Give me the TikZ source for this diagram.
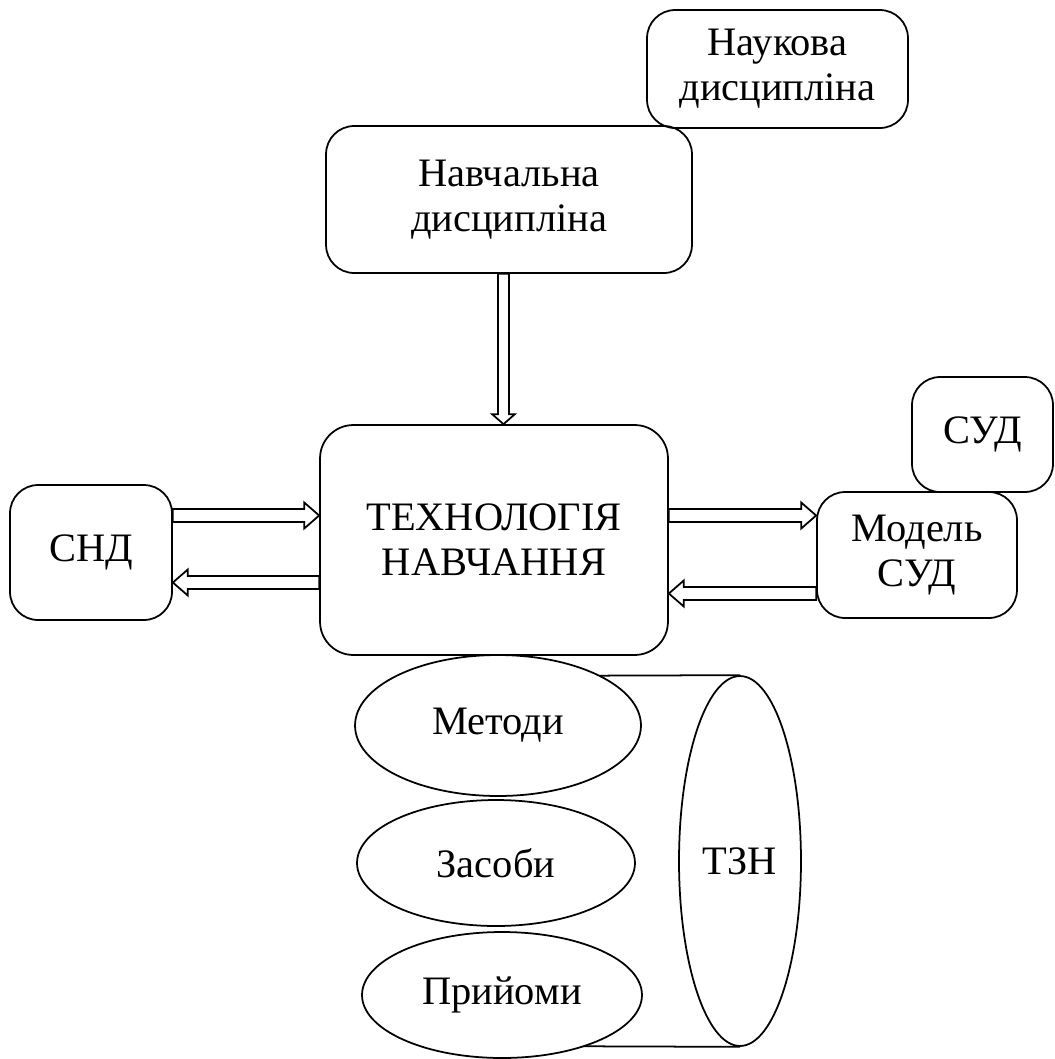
\documentclass[tikz,border=0pt]{standalone}
\usepackage{fontspec}
\setmainfont{Liberation Serif}
\usetikzlibrary{calc,shapes.geometric}
\tikzset{
 box/.style={draw, line width=1pt, rounded corners=16pt, align=center, inner sep=0pt, font=\fontsize{23}{25.5}\selectfont},
 oval/.style={draw, ellipse, line width=1pt, inner sep=0pt, fill=white, font=\fontsize{23}{25.5}\selectfont},
 blockarr/.style={draw, line width=1pt, line join=miter, fill=white},
 cyl/.style={draw, line width=1pt},
}
\newcommand\hollowarrow[5]{%
  \coordinate (hA) at (#1); \coordinate (hB) at (#2);
  \coordinate (hH) at ($(hB)!#5!(hA)$);
  \draw[blockarr] ($(hA)!#3!90:(hB)$) -- ($(hH)!#3!90:(hB)$) -- ($(hH)!#4!90:(hB)$) -- (hB) -- ($(hH)!#4!-90:(hB)$) -- ($(hH)!#3!-90:(hB)$) -- ($(hA)!#3!-90:(hB)$) -- cycle;
}
\begin{document}
\begin{tikzpicture}[x=0.02cm, y=-0.02cm]
\useasboundingbox (0,0) rectangle (1055,1059);
% boxes
\node[box, minimum width=7.32cm, minimum height=2.94cm] (navch) at (509,199.5) {Навчальна\\дисципліна};
\node[box, minimum width=5.22cm, minimum height=2.36cm] (nauk) at (777.5,69) {Наукова\\дисципліна};
\node[box, minimum width=6.96cm, minimum height=4.6cm, rounded corners=19pt] (tech) at (494,540) {ТЕХНОЛОГІЯ\\НАВЧАННЯ};
\node[box, minimum width=3.24cm, minimum height=2.7cm] (snd) at (91,552.5) {СНД};
\node[box, minimum width=2.82cm, minimum height=2.3cm] (sud) at (982.5,434.5) {СУД};
\node[box, minimum width=4.0cm, minimum height=2.52cm] (model) at (917,555) {Модель\\СУД};
% arrow levels
\coordinate (yA) at (0,515.5);
\coordinate (yB) at (0,582.5);
\coordinate (yC) at (0,593.5);
\coordinate (xV) at (503.5,0);
\hollowarrow{snd.east |- yA}{tech.west |- yA}{3.7pt}{7.4pt}{8.5pt}
\hollowarrow{tech.west |- yB}{snd.east |- yB}{3.7pt}{7.4pt}{8.5pt}
\hollowarrow{tech.east |- yA}{model.west |- yA}{3.7pt}{7.4pt}{8.5pt}
\hollowarrow{model.west |- yC}{tech.east |- yC}{3.7pt}{7.4pt}{8.5pt}
\hollowarrow{navch.south -| xV}{tech.north -| xV}{3.1pt}{6.5pt}{5.7pt}
% cylinder
\node[oval, minimum width=2.44cm, minimum height=7.4cm, fill=none] (tzn) at (740,861) {ТЗН};
\coordinate (cTop) at (498,676);
\coordinate (cBot) at (502,1046);
\draw[cyl] (cTop) -- (tzn.north);
\draw[cyl] (cBot) -- (tzn.south);
% ellipses
\node[oval, minimum width=5.72cm, minimum height=2.82cm] (metody) at (498,725.5) {Методи};
\node[oval, minimum width=5.56cm, minimum height=2.52cm] (zasoby) at (496,863) {Засоби};
\node[oval, minimum width=5.6cm, minimum height=2.52cm] (priyomy) at (502,995) {Прийоми};
\end{tikzpicture}
\end{document}
